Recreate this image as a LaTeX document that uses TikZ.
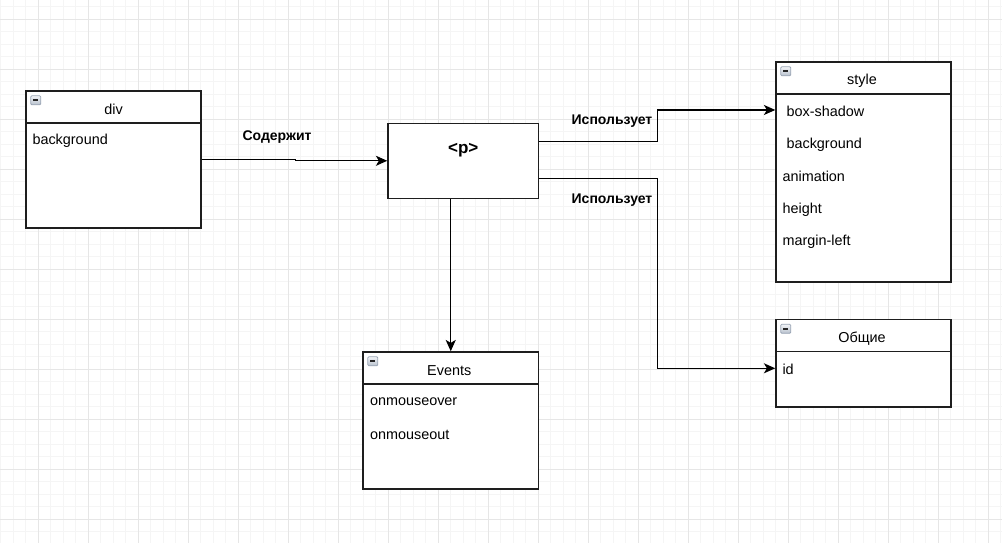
\documentclass[tikz,border=0pt]{standalone}
\usepackage{fontspec}
\setmainfont{Liberation Sans}
\usetikzlibrary{arrows.meta,calc}
\definecolor{gridminor}{HTML}{F5F5F5}
\definecolor{gridmajor}{HTML}{E6E6E6}
\definecolor{boxline}{HTML}{1E1E1E}
\definecolor{icontop}{HTML}{F2F4F7}
\definecolor{iconbot}{HTML}{B8C1CD}
\definecolor{iconline}{HTML}{9AA5B5}
\tikzset{
  x=0.75pt, y=-0.75pt,
  minorline/.style={gridminor, line width=0.75pt},
  majorline/.style={gridmajor, line width=0.75pt},
  umlbox/.style={draw=boxline, fill=white, line width=1.1pt, rectangle, inner sep=0pt},
  divider/.style={draw=boxline, line width=1.1pt},
  title/.style={font=\fontsize{10.8pt}{12pt}\selectfont, text=black, inner sep=0pt},
  item/.style={font=\fontsize{10.8pt}{12pt}\selectfont, text=black, inner sep=0pt, anchor=west},
  lbl/.style={font=\fontsize{10.5pt}{12pt}\selectfont\bfseries, text=black, inner sep=0pt},
  arr/.style={draw=black, line width=0.9pt, -{Stealth[length=8.5pt, width=7.5pt, inset=2.2pt]}},
  icon/.style={draw=iconline, line width=0.6pt, top color=icontop, bottom color=iconbot, rounded corners=0.8pt},
}
\newcommand{\umlicon}[1]{%
  \draw[icon] ($(#1.north west)+(5.5,5.5)$) rectangle ($(#1.north west)+(15.5,14.5)$);
  \draw[black!85, line width=1.2pt] ($(#1.north west)+(7.8,10)$) -- ($(#1.north west)+(13.2,10)$);
}
\begin{document}
\begin{tikzpicture}
\useasboundingbox (0,0) rectangle (1002,543);
\fill[white] (0,0) rectangle (1002,543);
% grid
\foreach \i in {0,...,80} {
  \draw[minorline] ({0.8+12.5*\i},0) -- ({0.8+12.5*\i},543);
}
\foreach \i in {0,...,43} {
  \draw[minorline] (0,{6.8+12.5*\i}) -- (1002,{6.8+12.5*\i});
}
\foreach \i in {0,...,19} {
  \draw[majorline] ({38.3+50*\i},0) -- ({38.3+50*\i},543);
}
\foreach \i in {-1,...,10} {
  \draw[majorline] (0,{19.3+50*\i}) -- (1002,{19.3+50*\i});
}

% boxes
\node[umlbox, minimum width=131.25pt, minimum height=102.75pt] (div) at (113.5,159.5) {};
\node[umlbox, minimum width=112.9pt, minimum height=56.25pt] (p) at (463.25,160.8) {};
\node[umlbox, minimum width=131.25pt, minimum height=165pt] (style) at (863.5,172) {};
\node[umlbox, minimum width=131.25pt, minimum height=65.6pt] (gen) at (863.5,363.25) {};
\node[umlbox, minimum width=131.6pt, minimum height=102.75pt] (events) at (450.75,420.5) {};

% dividers
\foreach \b in {div,style,gen,events} {
  \draw[divider] ($(\b.north west)+(0,32.5)$) -- ($(\b.north east)+(0,32.5)$);
  \umlicon{\b}
}

% titles
\node[title] (divt) at ($(div.north)+(0,19.5)$) {div};
\node[title] (stylet) at ($(style.north)+(-1.5,19.5)$) {style};
\node[title] (gent) at ($(gen.north)+(-1.5,19.5)$) {Общие};
\node[title] (eventst) at ($(events.north)+(-1.5,19.5)$) {Events};
\node[font=\fontsize{12.75pt}{14pt}\selectfont\bfseries, inner sep=0pt] (pt) at ($(p.north)+(0,28)$) {<p>};

% items
\node[item] (divi1) at ($(div.north west)+(7,50.5)$) {background};
\node[item] (stylei1) at ($(style.north west)+(11,50.5)$) {box-shadow};
\node[item] (stylei2) at ($(style.north west)+(11,83.5)$) {background};
\node[item] (stylei3) at ($(style.north west)+(7,115.5)$) {animation};
\node[item] (stylei4) at ($(style.north west)+(7,148.5)$) {height};
\node[item] (stylei5) at ($(style.north west)+(7,181)$) {margin-left};
\node[item] (geni1) at ($(gen.north west)+(7,51)$) {id};
\node[item] (eventsi1) at ($(events.north west)+(7.5,50.5)$) {onmouseover};
\node[item] (eventsi2) at ($(events.north west)+(7.5,83.5)$) {onmouseout};

% connectors
\draw[arr] (div.east) -- ++(94,0) |- (p.west);
\draw[arr] ($(p.north east)+(0,18.7)$) -- ++(118.5,0) |- ($(style.north west)+(0,48.7)$);
\draw[arr] ($(p.north east)+(0,56)$) -- ++(118.5,0) |- ($(gen.north west)+(0,49.5)$);
\draw[arr] (events.north |- p.south) -- (events.north);

% labels
\node[lbl] (l1) at (277,137) {Содержит};
\node[lbl] (l2) at (612,121.5) {Использует};
\node[lbl] (l3) at (612,200.5) {Использует};
\end{tikzpicture}
\end{document}
